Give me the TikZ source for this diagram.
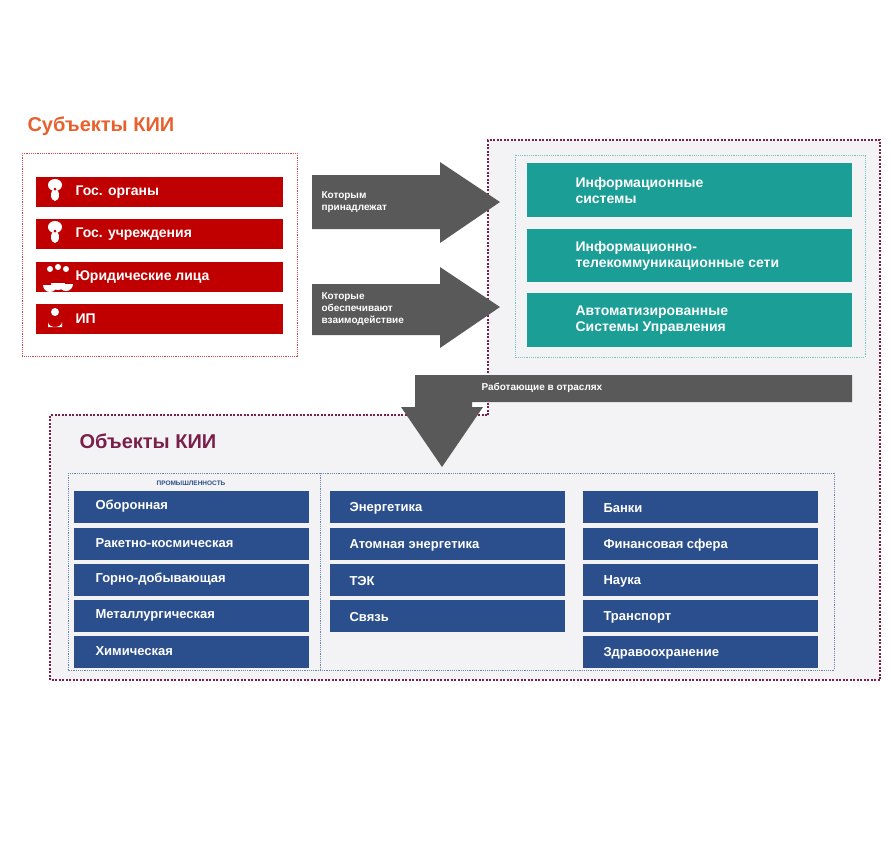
\documentclass[tikz,border=0pt]{standalone}
\usepackage{fontspec}
\setmainfont{Liberation Sans}
\definecolor{kred}{HTML}{C00000}
\definecolor{kteal}{HTML}{1A9E96}
\definecolor{kblue}{HTML}{2B4F8C}
\definecolor{kgray}{HTML}{595959}
\definecolor{kmar}{HTML}{7A1F4A}
\definecolor{korange}{HTML}{E8602C}
\definecolor{kbg}{HTML}{F3F3F5}
\begin{document}
\begin{tikzpicture}[x=1pt,y=-1pt,
 redbar/.style={fill=kred,draw=none},
 redtxt/.style={anchor=west,text=white,font=\bfseries\fontsize{14}{16}\selectfont},
 tealbar/.style={fill=kteal,draw=none},
 tealtxt/.style={anchor=west,text=white,align=left,font=\bfseries\fontsize{14}{16}\selectfont},
 bluebar/.style={fill=kblue,draw=none},
 bluetxt/.style={anchor=west,text=white,font=\bfseries\fontsize{13}{15}\selectfont},
 arr/.style={fill=kgray,draw=none},
 arrtxt/.style={anchor=west,text=white,align=left,font=\bfseries\fontsize{10}{12}\selectfont},
 dotbox/.style={draw=kmar,line width=1.6pt,dash pattern=on 2pt off 1.5pt}]
\useasboundingbox (0,0) rectangle (891,863);
% backgrounds
\path[fill=kbg] (488,140) -- (880,140) -- (880,680) -- (50,680) -- (50,415) -- (488,415) -- cycle;
\draw[dotbox] (488,415) -- (488,140) -- (880,140) -- (880,680) -- (50,680) -- (50,415) -- cycle;
% subjects
\node[anchor=west,text=korange,font=\bfseries\fontsize{20}{22}\selectfont] (t1) at (24,126) {Субъекты КИИ};
\draw[draw=kred!70,line width=1pt,dash pattern=on 1.2pt off 1pt] (22,153) rectangle (297,356);
\foreach \y/\t/\n in {177/Гос. органы/s1,219/Гос. учреждения/s2,262/Юридические лица/s3,304/ИП/s4}{
 \fill[redbar] (36,\y) rectangle (283,\y+30);
 \node[redtxt] (\n) at (72,\y+15) {\t};
}
% icons
\foreach \y in {177,219}{
 \fill[white] (55,\y+8) ellipse (7 and 6);
 \fill[white] (55,\y+18) ellipse (4 and 6);
 \fill[kred] (55,\y+12) circle (1.5);
}
\fill[white] (50,269) circle (3); \fill[white] (58,267) circle (3); \fill[white] (66,269) circle (3);
\fill[white] (43,285) arc (180:0:7) -- cycle; \fill[white] (59,284) arc (180:0:7) -- cycle; \fill[white] (51,283) arc (180:0:7) -- cycle;
\fill[white] (55,312) circle (4);
\fill[white] (48,327) -- (48,322) arc (180:0:7 and 5) -- (62,327) -- cycle;
% arrows right
\fill[arr] (312,175) -- (440,175) -- (440,162) -- (500,202) -- (440,243) -- (440,229) -- (312,229) -- cycle;
\node[arrtxt] (a1) at (318,202) {Которым\\принадлежат};
\fill[arr] (312,284) -- (440,284) -- (440,267) -- (500,307) -- (440,348) -- (440,335) -- (312,335) -- cycle;
\node[arrtxt] (a2) at (318,309) {Которые\\обеспечивают\\взаимодействие};
% teal
\draw[draw=kteal!60,line width=1pt,dash pattern=on 1.2pt off 1pt] (515,155) rectangle (865,357);
\fill[tealbar] (527,163) rectangle (852,217);
\node[tealtxt] (i1) at (572,190) {Информационные\\системы};
\fill[tealbar] (527,229) rectangle (852,282);
\node[tealtxt] (i2) at (572,256) {Информационно-\\телекоммуникационные сети};
\fill[tealbar] (527,293) rectangle (852,347);
\node[tealtxt] (i3) at (572,320) {Автоматизированные\\Системы Управления};
% down arrow
\fill[arr] (852,375) -- (415,375) -- (415,407) -- (401,407) -- (442,467) -- (483,407) -- (472,407) -- (472,402) -- (852,402) -- cycle;
\node[arrtxt] (a3) at (478,388) {Работающие в отраслях};
% objects
\node[anchor=west,text=kmar,font=\bfseries\fontsize{20}{22}\selectfont] (t2) at (76,441) {Объекты КИИ};
\draw[draw=kblue!70,line width=0.9pt,dash pattern=on 1.2pt off 1pt] (68,473) rectangle (834,670);
\draw[draw=kblue!70,line width=0.9pt,dash pattern=on 1.2pt off 1pt] (320,473) -- (320,670);
\node[text=kblue,font=\bfseries\fontsize{6.5}{7}\selectfont] (p) at (191,483) {ПРОМЫШЛЕННОСТЬ};
\foreach \y/\t/\n in {491/Оборонная/b1,528/Ракетно-космическая/b2,564/Горно-добывающая/b3,600/Металлургическая/b4,636/Химическая/b5}{
 \fill[bluebar] (74,\y) rectangle (309,\y+32); \node[bluetxt] (\n) at (92,\y+15) {\t};}
\foreach \y/\t/\n in {491/Энергетика/c1,528/Атомная энергетика/c2,564/ТЭК/c3,600/Связь/c4}{
 \fill[bluebar] (330,\y) rectangle (565,\y+32); \node[bluetxt] (\n) at (346,\y+17) {\t};}
\foreach \y/\t/\n in {491/Банки/d1,528/Финансовая сфера/d2,564/Наука/d3,600/Транспорт/d4,636/Здравоохранение/d5}{
 \fill[bluebar] (583,\y) rectangle (818,\y+32); \node[bluetxt] (\n) at (600,\y+17) {\t};}
\end{tikzpicture}
\end{document}
